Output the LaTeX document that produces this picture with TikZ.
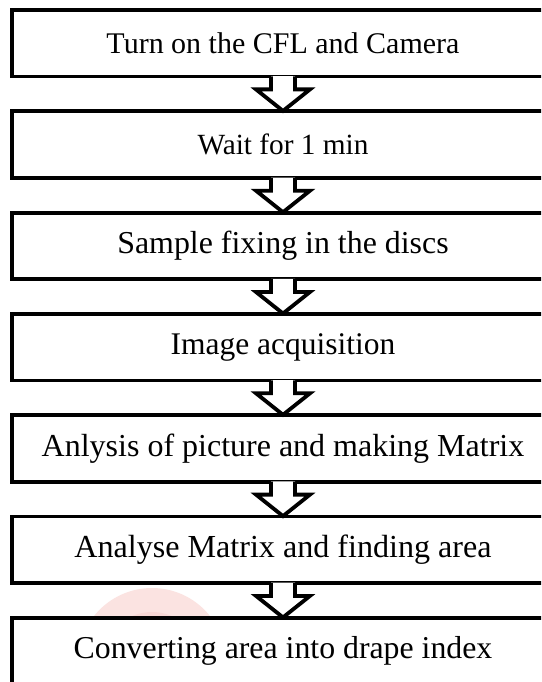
\documentclass[tikz,border=0pt]{standalone}
\usepackage{fontspec}
\setmainfont{Liberation Serif}
\usetikzlibrary{calc}

\definecolor{markpink}{RGB}{250,218,215}
\definecolor{markred}{RGB}{244,190,186}

\tikzset{
  stepbox/.style={draw=black, line width=3.8pt, fill=white, rectangle,
    minimum width=542pt, minimum height=66.5pt, inner sep=0pt},
  fs/.style={font=\fontsize{#1}{#1}\selectfont},
  flowarrow/.style={draw=black, line width=3.8pt, line join=miter},
}

% hollow block arrow from the bottom of box #1 to the top of box #2
\newcommand{\blockarrow}[2]{%
  \fill[white] ($(#1.south)+(-12,-2.2)$) -- ($(#1.south)+(12,-2.2)$)
    -- ($(#1.south)+(12,11)$) -- ($(#1.south)+(27,11)$)
    -- ($(#2.north)+(0,1.5)$) -- ($(#1.south)+(-27,11)$)
    -- ($(#1.south)+(-12,11)$) -- cycle;
  \draw[flowarrow] ($(#1.south)+(-12,-1.9)$) -- ($(#1.south)+(-12,11)$)
    -- ($(#1.south)+(-27,11)$) -- ($(#2.north)+(0,1.5)$)
    -- ($(#1.south)+(27,11)$) -- ($(#1.south)+(12,11)$)
    -- ($(#1.south)+(12,-1.9)$);
}

\begin{document}
\begin{tikzpicture}[x=1pt,y=-1pt]
  \useasboundingbox (0,0) rectangle (541,682);
  \clip (0,0) rectangle (541,682);
  \fill[white] (0,0) rectangle (541,682);

  % faint round mark behind the lower boxes
  \fill[markpink, opacity=0.75] (152,662) circle (74);
  \fill[markred, opacity=0.3] (152,662) circle (50);

  \node[stepbox, fs=30]   (b1) at (283, 43.25) {Turn on the CFL and Camera};
  \node[stepbox, fs=29.3] (b2) at (283,144.55) {Wait for 1 min};
  \node[stepbox, fs=31.9] (b3) at (283,245.85) {Sample fixing in the discs};
  \node[stepbox, fs=31.5] (b4) at (283,347.15) {Image acquisition};
  \node[stepbox, fs=32]   (b5) at (283,448.45) {Anlysis of picture and making Matrix};
  \node[stepbox, fs=32.1] (b6) at (283,549.75) {Analyse Matrix and finding area};
  \node[stepbox, fs=31.8] (b7) at (283,651.05) {Converting area into drape index};

  \blockarrow{b1}{b2}
  \blockarrow{b2}{b3}
  \blockarrow{b3}{b4}
  \blockarrow{b4}{b5}
  \blockarrow{b5}{b6}
  \blockarrow{b6}{b7}
\end{tikzpicture}
\end{document}
